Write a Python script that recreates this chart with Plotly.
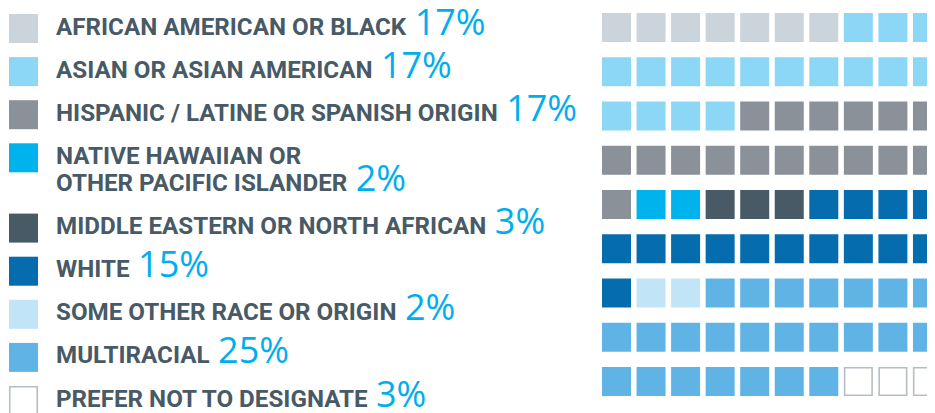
import plotly.graph_objects as go

# ---------------- data ----------------
categories = [
    "AFRICAN AMERICAN OR BLACK",
    "ASIAN OR ASIAN AMERICAN",
    "HISPANIC / LATINE OR SPANISH ORIGIN",
    "NATIVE HAWAIIAN OR<br>OTHER PACIFIC ISLANDER",
    "MIDDLE EASTERN OR NORTH AFRICAN",
    "WHITE",
    "SOME OTHER RACE OR ORIGIN",
    "MULTIRACIAL",
    "PREFER NOT TO DESIGNATE",
]
percents = [17, 17, 17, 2, 3, 15, 2, 25, 3]
cell_counts = [7, 17, 17, 2, 3, 15, 2, 24, 3]   # squares in the waffle grid
colors = ["#cbd3db", "#8dd7f6", "#8a9199", "#00b3ec", "#475a65",
          "#056dae", "#c2e4f7", "#5fb4e5", "#ffffff"]
outline = [None, None, None, None, None, None, None, None, "#b5bdc5"]
n_cols = 10

# ---------------- styles ----------------
OFF = 8                      # page offset of the figure (body margin)
PW, PH = 935, 413            # page size
W, H = PW - OFF, PH - OFF    # figure size
LABEL_COLOR = "#475a66"
PCT_COLOR = "#00aeef"
LABEL_FONT = "Roboto"
LABEL_SIZE = 24.2
PCT_SIZE = 36
ASC_LABEL = 0.928 * LABEL_SIZE
ASC_PCT = 1.069 * PCT_SIZE
PAD = 2

fig = go.Figure()

# ---- waffle grid (xaxis2 / yaxis2 in cell units) ----
cell_x, cell_y, cell_c, cell_lc, cell_lw, cell_s = [], [], [], [], [], []
idx = 0
for k, n in enumerate(cell_counts):
    for _ in range(n):
        cell_x.append(idx % n_cols)
        cell_y.append(idx // n_cols)
        cell_c.append(colors[k])
        cell_lc.append(outline[k] or colors[k])
        cell_lw.append(1.6 if outline[k] else 0)
        cell_s.append(27.5 if outline[k] else 29)
        idx += 1

fig.add_trace(go.Scatter(
    x=cell_x, y=cell_y, xaxis="x2", yaxis="y2", mode="markers",
    marker=dict(symbol="square", size=cell_s, color=cell_c, opacity=1,
                line=dict(color=cell_lc, width=cell_lw)),
    hoverinfo="skip", showlegend=False, cliponaxis=True,
))

# ---- legend (axes in page pixels) ----
leg_x, leg_y, leg_c, leg_lc, leg_lw, leg_s = [], [], [], [], [], []
y0, step, line_h = 28.5, 43.1, 27.2
extra = 0
annotations = []
for k, cat in enumerate(categories):
    yc = y0 + step * k + line_h * extra
    leg_x.append(23.5)
    leg_y.append(yc)
    leg_c.append(colors[k])
    leg_lc.append(outline[k] or colors[k])
    leg_lw.append(1.6 if outline[k] else 0)
    leg_s.append(27.5 if outline[k] else 29)
    lines = cat.split("<br>")
    for j, line in enumerate(lines):
        baseline = yc + 6.5 + line_h * j
        last = j == len(lines) - 1
        if last:
            txt = (f"<b>{line}</b> \u200a<span style='color:{PCT_COLOR};"
                   f"font-family:Open Sans;font-size:{PCT_SIZE}px;font-weight:400'>"
                   f"{percents[k]}%</span>")
            shift = ASC_PCT + PAD
        else:
            txt = f"<b>{line}</b>"
            shift = ASC_LABEL + PAD
        annotations.append(dict(
            x=54, y=baseline, yshift=shift, xref="x", yref="y", text=txt,
            showarrow=False, xanchor="left", yanchor="top", align="left",
            font=dict(family=LABEL_FONT, size=LABEL_SIZE, color=LABEL_COLOR),
        ))
    extra += len(lines) - 1

fig.add_trace(go.Scatter(
    x=leg_x, y=leg_y, mode="markers",
    marker=dict(symbol="square", size=leg_s, color=leg_c, opacity=1,
                line=dict(color=leg_lc, width=leg_lw)),
    hoverinfo="skip", showlegend=False, cliponaxis=False,
))

# axis mapping (page pixels -> cell units)
px0, pitch_x = 616.5, 34.55
py0, pitch_y = 27.5, 44.25
grid_left = 590

hidden = dict(visible=False, showgrid=False, zeroline=False, fixedrange=True)
fig.update_layout(
    width=W, height=H,
    margin=dict(l=0, r=0, t=0, b=0),
    paper_bgcolor="white", plot_bgcolor="rgba(0,0,0,0)",
    xaxis=dict(range=[OFF, PW], domain=[0, 1], **hidden),
    yaxis=dict(range=[PH, OFF], domain=[0, 1], **hidden),
    xaxis2=dict(range=[(grid_left - px0) / pitch_x, (PW - px0) / pitch_x],
                domain=[(grid_left - OFF) / W, 1], anchor="y2", **hidden),
    yaxis2=dict(range=[(PH - py0) / pitch_y, (OFF - py0) / pitch_y],
                domain=[0, 1], anchor="x2", **hidden),
    annotations=annotations,
    showlegend=False,
)

fig.write_html("out.html", config={"displayModeBar": False})
